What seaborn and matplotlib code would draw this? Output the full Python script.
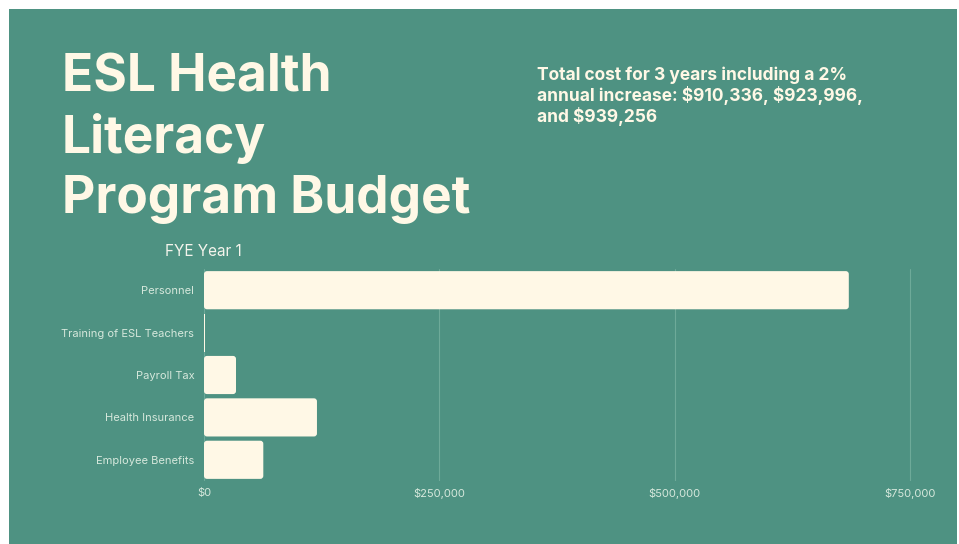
import seaborn as sns
import matplotlib.pyplot as plt
import pandas as pd
from matplotlib.patches import Rectangle, FancyBboxPatch
from matplotlib.ticker import FuncFormatter

# Budget line items, FYE Year 1
categories = ['Personnel', 'Training of ESL Teachers', 'Payroll Tax',
              'Health Insurance', 'Employee Benefits']
amounts = [685000, 1500, 34000, 120000, 63000]
x_ticks = [0, 250000, 500000, 750000]

df = pd.DataFrame({'Item': categories, 'Amount': amounts})

teal = '#4E9282'
cream = '#FFF8E6'
label_col = '#D6E8DC'

sns.set_style("white")
plt.rcParams['font.family'] = ['Inter', 'DejaVu Sans']

fig = plt.figure(figsize=(9.59, 5.44), dpi=100)
fig.patch.set_facecolor('white')

# teal panel with a thin white margin on top/left
bg = fig.add_axes([0, 0, 1, 1], zorder=-10)
bg.set_axis_off()
bg.set_xlim(0, 959)
bg.set_ylim(544, 0)
bg.add_patch(Rectangle((9, 9), 948, 540, facecolor=teal, edgecolor='none'))

ax_w, ax_h = 712, 212
ax = fig.add_axes([204 / 959, 1 - 481 / 544, ax_w / 959, ax_h / 544])
ax.set_facecolor('none')
sns.barplot(data=df, x='Amount', y='Item', orient='h', color=cream,
            saturation=1, width=0.9, edgecolor='none', linewidth=0, ax=ax)

xmax = 750000 * ax_w / 706
ax.set_xlim(0, xmax)

# soften bar corners (Canva-style), ~3px radius
x_per_px = xmax / ax_w
y_per_px = 5 / ax_h
r = 3 * x_per_px
for p in list(ax.patches):
    x0, y0, w, h = p.get_x(), p.get_y(), p.get_width(), p.get_height()
    if w > 2 * r:
        p.remove()
        ax.add_patch(FancyBboxPatch((x0, y0), w, h,
                                    boxstyle=f"round,pad=0,rounding_size={r}",
                                    mutation_aspect=y_per_px / x_per_px,
                                    facecolor=cream, edgecolor='none'))

ax.set_xticks(x_ticks)
ax.xaxis.set_major_formatter(FuncFormatter(lambda v, p: f"${v:,.0f}"))
ax.grid(axis='x', color='#6EAA99', linewidth=0.8)
ax.set_axisbelow(True)
for s in ax.spines.values():
    s.set_visible(False)
ax.tick_params(axis='both', length=0, labelsize=8, colors=label_col)
ax.tick_params(axis='x', pad=5)
ax.tick_params(axis='y', pad=7)
ax.set_xlabel('')
ax.set_ylabel('')

# Headline
for txt, y in [('ESL Health', 78), ('Literacy', 139), ('Program Budget', 200)]:
    fig.text(62 / 959, 1 - y / 544, txt, fontsize=37, fontweight='bold',
             color=cream, va='center', ha='left')

fig.text(537 / 959, 1 - 66 / 544,
         'Total cost for 3 years including a 2%\n'
         'annual increase: \\$910,336, \\$923,996,\n'
         'and \\$939,256',
         fontsize=12.5, fontweight='bold', color=cream, va='top', ha='left',
         linespacing=1.15)

fig.text(203 / 959, 1 - 251 / 544, 'FYE Year 1', fontsize=11, color='#F4F4EC',
         va='center', ha='center')

plt.savefig("out.png", dpi=100, facecolor=fig.get_facecolor())
plt.close()
